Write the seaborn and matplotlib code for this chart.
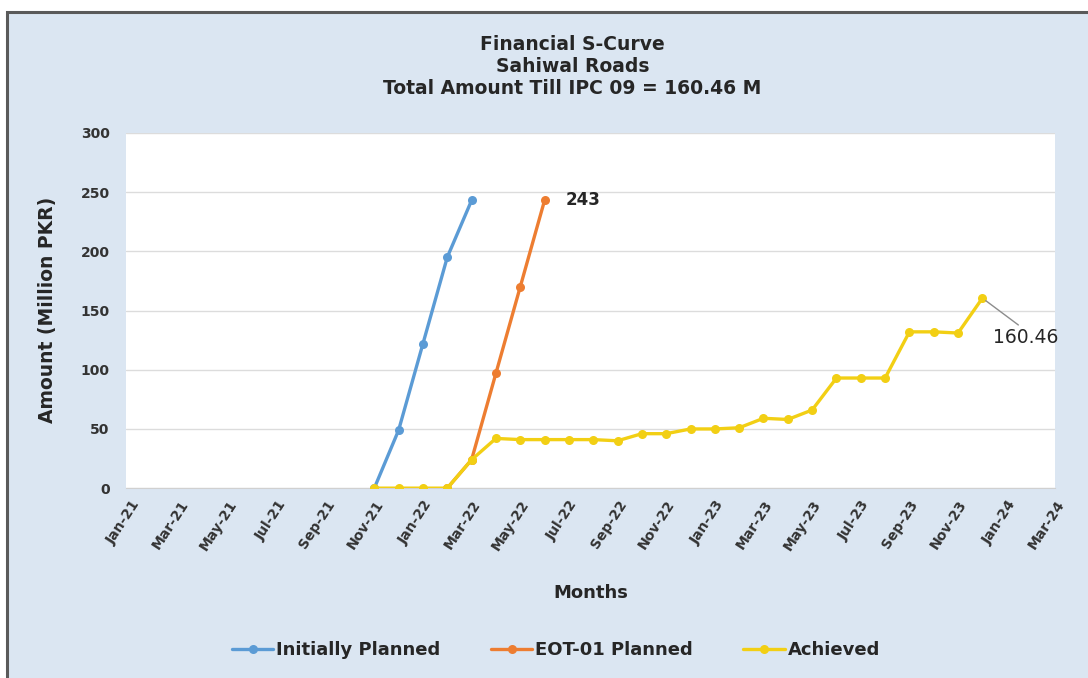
import matplotlib
matplotlib.use("Agg")
import matplotlib.pyplot as plt
from matplotlib.patches import Rectangle
from matplotlib.lines import Line2D
import seaborn as sns
import pandas as pd

# ---- data ----
all_months = ["Jan-21", "Feb-21", "Mar-21", "Apr-21", "May-21", "Jun-21", "Jul-21", "Aug-21",
              "Sep-21", "Oct-21", "Nov-21", "Dec-21", "Jan-22", "Feb-22", "Mar-22", "Apr-22",
              "May-22", "Jun-22", "Jul-22", "Aug-22", "Sep-22", "Oct-22", "Nov-22", "Dec-22",
              "Jan-23", "Feb-23", "Mar-23", "Apr-23", "May-23", "Jun-23", "Jul-23", "Aug-23",
              "Sep-23", "Oct-23", "Nov-23", "Dec-23", "Jan-24", "Feb-24", "Mar-24"]

initial_months = ["Nov-21", "Dec-21", "Jan-22", "Feb-22", "Mar-22"]
initial_values = [0, 49, 122, 195, 243]

eot_months = ["Feb-22", "Mar-22", "Apr-22", "May-22", "Jun-22"]
eot_values = [0, 24, 97, 170, 243]

achieved_months = ["Nov-21", "Dec-21", "Jan-22", "Feb-22", "Mar-22", "Apr-22", "May-22",
                   "Jun-22", "Jul-22", "Aug-22", "Sep-22", "Oct-22", "Nov-22", "Dec-22",
                   "Jan-23", "Feb-23", "Mar-23", "Apr-23", "May-23", "Jun-23", "Jul-23",
                   "Aug-23", "Sep-23", "Oct-23", "Nov-23", "Dec-23"]
achieved_values = [0, 0, 0, 0, 24, 42, 41, 41, 41, 41, 40, 46, 46, 50, 50, 51, 59, 58, 66,
                   93, 93, 93, 132, 132, 131, 160.46]

series_names = ["Initially Planned", "EOT-01 Planned", "Achieved"]
series_colors = ["#5b9bd5", "#ed7d31", "#f2cf14"]

# ---- build long table ----
rows = []
for name, ms, vs in zip(series_names,
                        [initial_months, eot_months, achieved_months],
                        [initial_values, eot_values, achieved_values]):
    for m, v in zip(ms, vs):
        rows.append({"series": name, "month": all_months.index(m), "amount": v})
df = pd.DataFrame(rows)

sns.set_style("white")
plt.rcParams['font.family'] = ['DejaVu Sans']

TXT = "#262626"
fig = plt.figure(figsize=(10.88, 6.78), dpi=100)
fig.patch.set_facecolor("white")
# chart area background with border
fig.patches.append(Rectangle((0.006, -0.02), 1.1, 1.0018, transform=fig.transFigure,
                             facecolor="#dbe6f2", edgecolor="#5a5a5a", linewidth=2.2,
                             zorder=-10))

ax = fig.add_axes([0.116, 0.280, 0.854, 0.524])
ax.set_zorder(5)
ax.set_facecolor("white")

palette = dict(zip(series_names, series_colors))
for name in series_names:
    sub = df[df["series"] == name]
    sns.lineplot(data=sub, x="month", y="amount", ax=ax, color=palette[name],
                 linewidth=2.4, marker="o", markersize=6.5, markeredgewidth=0,
                 sort=False, legend=False, zorder=3)

ax.set_ylim(0, 300)
ax.set_xlim(-0.2, 38.0)
ax.set_yticks(range(0, 301, 50))
ax.set_yticklabels([str(v) for v in range(0, 301, 50)], fontsize=10,
                   fontweight="bold", color="#333333")
xt = list(range(0, len(all_months), 2))
ax.set_xticks(xt)
ax.set_xticklabels([all_months[i] for i in xt], rotation=57, ha="right",
                   rotation_mode="anchor", fontsize=10, fontweight="bold",
                   color="#333333")
ax.tick_params(axis="both", length=0, pad=7)
ax.tick_params(axis="y", pad=12)
ax.grid(axis="y", color="#dcdcdc", linewidth=1)
ax.grid(axis="x", visible=False)
for s in ["top", "right", "left"]:
    ax.spines[s].set_visible(False)
ax.spines["bottom"].set_color("#d0d0d0")
ax.set_xlabel("")
ax.set_ylabel("")

# annotations
ax.text(all_months.index("Jun-22") + 0.85, 243, "243", fontsize=12,
        fontweight="bold", color=TXT, va="center", ha="left")
ax.annotate("160.46", xy=(all_months.index("Dec-23"), 160.46),
            xytext=(all_months.index("Dec-23") + 0.45, 127), fontsize=13.5,
            color=TXT, ha="left", va="center",
            arrowprops=dict(arrowstyle="-", color="#8c8c8c", lw=1,
                            shrinkA=0, shrinkB=3, relpos=(0.45, 1.0)))

# titles
title_lines = ["Financial S-Curve", "Sahiwal Roads", "Total Amount Till IPC 09 = 160.46 M"]
for i, t in enumerate(title_lines):
    fig.text(0.526, 0.934 - i * 0.0325, t, ha="center", va="center",
             fontsize=13.5, fontweight="bold", color=TXT)

fig.text(0.044, 0.543, "Amount (Million PKR)", rotation=90, ha="center", va="center",
         fontsize=13.5, fontweight="bold", color=TXT)
fig.text(0.543, 0.125, "Months", ha="center", va="center", fontsize=13,
         fontweight="bold", color=TXT)

handles = [Line2D([0], [0], color=c, linewidth=2.4, marker="o", markersize=6.5,
                  markeredgewidth=0) for c in series_colors]
fig.legend(handles, series_names, loc="center", bbox_to_anchor=(0.511, 0.041),
           ncol=3, frameon=False, prop={"weight": "bold", "size": 13},
           handlelength=2.3, columnspacing=2.8, handletextpad=0.15,
           labelcolor=TXT)

fig.savefig("out.png", dpi=100, facecolor=fig.get_facecolor())
